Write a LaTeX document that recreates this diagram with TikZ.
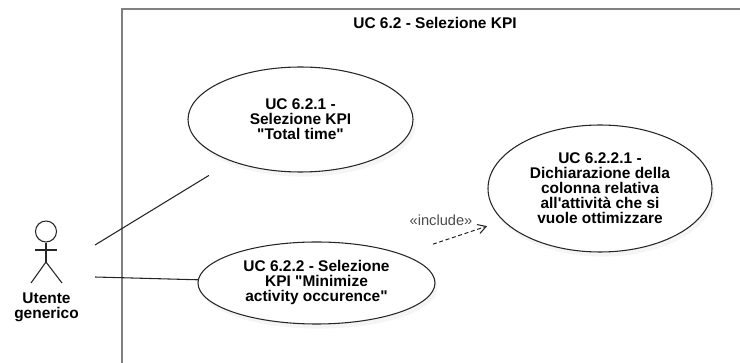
\documentclass[tikz,border=0pt]{standalone}
\usepackage{fontspec}
% plain typewriter quotes, no TeX character mapping
\setmainfont{Liberation Sans}[Ligatures=TeXOff]
\usetikzlibrary{shapes.geometric,arrows.meta,shadows}

\begin{document}
\begin{tikzpicture}[x=0.75pt,y=-0.75pt,
  namefont/.style={font=\bfseries\fontsize{11.6}{11.25}\selectfont},
  usecase/.style={ellipse, draw=black!85, line width=0.8pt, fill=white,
    inner sep=0pt, align=center, namefont,
    drop shadow={shadow xshift=2pt, shadow yshift=-3.5pt, opacity=0.08}},
  assoc/.style={draw=black!85, line width=0.8pt},
  incl/.style={draw=black!85, line width=0.8pt, dash pattern=on 3pt off 2pt,
    -{Straight Barb[length=6pt,width=7pt]}},
  stick/.style={draw=black!85, line width=0.8pt},
]
\useasboundingbox (0,0) rectangle (740,363);

% subsystem boundary
\draw[black!50, line width=1.3pt] (122,370) -- (122,9) -- (750,9);
\node[namefont] (title) at (435,23) {UC 6.2 - Selezione KPI};

% use cases
\node[usecase, minimum width=168.75pt, minimum height=78.75pt] (uc1) at (300.5,119.5)
  {UC 6.2.1 -\\Selezione KPI\\"Total time"};
\node[usecase, minimum width=177.75pt, minimum height=61.5pt] (uc2) at (316.5,283)
  {UC 6.2.2 - Selezione\\KPI "Minimize\\activity occurence"};
\node[usecase, minimum width=168pt, minimum height=95.25pt] (uc3) at (600,188.5)
  {UC 6.2.2.1 -\\Dichiarazione della\\colonna relativa\\all'attività che si\\vuole ottimizzare};

% actor
\node[circle, stick, minimum size=15.75pt, inner sep=0pt] (head) at (46,231.5) {};
\coordinate (hip) at (46,262);
\coordinate (lhand) at (35,250);
\coordinate (rhand) at (57,250);
\coordinate (lfoot) at (31,283);
\coordinate (rfoot) at (62,283);
\draw[stick] (head.south) -- (hip);
\draw[stick] (lhand) -- (rhand);
\draw[stick] (lfoot) -- (hip) -- (rfoot);
\node[namefont, align=center] (actor) at (46.5,307) {Utente\\generico};

% associations
\coordinate (a1) at (95,245);
\coordinate (a2) at (95,277);
\draw[assoc, shorten >=20pt] (a1) -- (uc1);
\draw[assoc] (a2) -- (uc2);

% include dependency
\draw[incl, shorten <=24pt, shorten >=12.5pt] (uc2) -- (uc3);
\node[font=\fontsize{11}{13}\selectfont, text=black!70] (inclabel) at (441,220) {«include»};
\end{tikzpicture}
\end{document}
